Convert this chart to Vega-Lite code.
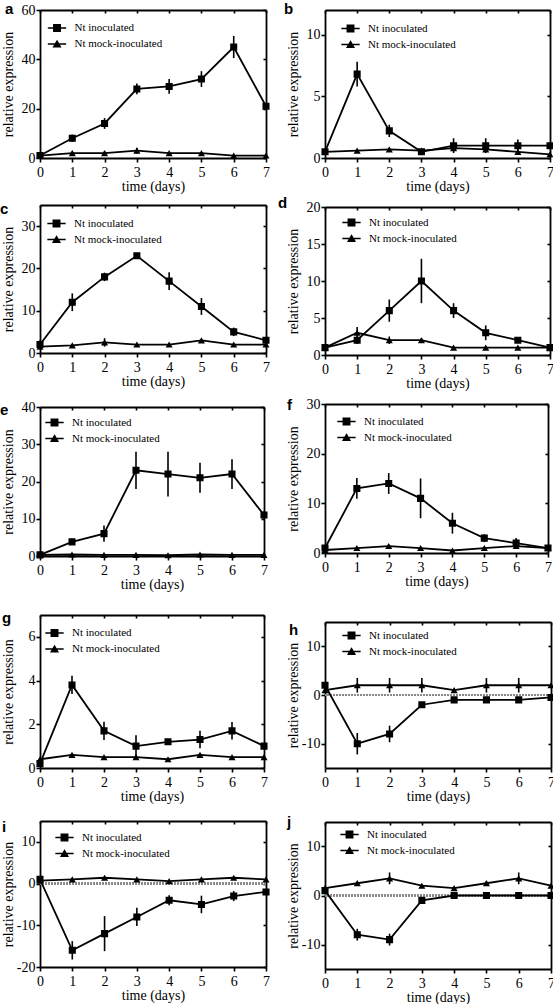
{
"$schema":"https://vega.github.io/schema/vega-lite/v6.json",
"padding":{"top":2,"left":0,"right":0,"bottom":0},
"data":{"values":[
{"panel":"a","series":"Nt inoculated","day":0,"value":1,"err":0.5},{"panel":"a","series":"Nt inoculated","day":1,"value":8,"err":1.5},{"panel":"a","series":"Nt inoculated","day":2,"value":14,"err":2.2},{"panel":"a","series":"Nt inoculated","day":3,"value":28,"err":2.2},{"panel":"a","series":"Nt inoculated","day":4,"value":29,"err":3},{"panel":"a","series":"Nt inoculated","day":5,"value":32,"err":3.2},{"panel":"a","series":"Nt inoculated","day":6,"value":45,"err":4.5},{"panel":"a","series":"Nt inoculated","day":7,"value":21,"err":1},
{"panel":"a","series":"Nt mock-inoculated","day":0,"value":1,"err":0.3},{"panel":"a","series":"Nt mock-inoculated","day":1,"value":2,"err":0.8},{"panel":"a","series":"Nt mock-inoculated","day":2,"value":2,"err":0.8},{"panel":"a","series":"Nt mock-inoculated","day":3,"value":3,"err":1.2},{"panel":"a","series":"Nt mock-inoculated","day":4,"value":2,"err":0.3},{"panel":"a","series":"Nt mock-inoculated","day":5,"value":2,"err":0.3},{"panel":"a","series":"Nt mock-inoculated","day":6,"value":1,"err":0.2},{"panel":"a","series":"Nt mock-inoculated","day":7,"value":1,"err":0.2},
{"panel":"b","series":"Nt inoculated","day":0,"value":0.5,"err":0.1},{"panel":"b","series":"Nt inoculated","day":1,"value":6.8,"err":1},{"panel":"b","series":"Nt inoculated","day":2,"value":2.2,"err":0.5},{"panel":"b","series":"Nt inoculated","day":3,"value":0.5,"err":0.1},{"panel":"b","series":"Nt inoculated","day":4,"value":1,"err":0.6},{"panel":"b","series":"Nt inoculated","day":5,"value":1,"err":0.6},{"panel":"b","series":"Nt inoculated","day":6,"value":1,"err":0.5},{"panel":"b","series":"Nt inoculated","day":7,"value":1,"err":0.2},
{"panel":"b","series":"Nt mock-inoculated","day":0,"value":0.5,"err":0},{"panel":"b","series":"Nt mock-inoculated","day":1,"value":0.6,"err":0},{"panel":"b","series":"Nt mock-inoculated","day":2,"value":0.7,"err":0},{"panel":"b","series":"Nt mock-inoculated","day":3,"value":0.6,"err":0},{"panel":"b","series":"Nt mock-inoculated","day":4,"value":0.8,"err":0.1},{"panel":"b","series":"Nt mock-inoculated","day":5,"value":0.7,"err":0.1},{"panel":"b","series":"Nt mock-inoculated","day":6,"value":0.5,"err":0.1},{"panel":"b","series":"Nt mock-inoculated","day":7,"value":0.3,"err":0.1},
{"panel":"c","series":"Nt inoculated","day":0,"value":2,"err":1},{"panel":"c","series":"Nt inoculated","day":1,"value":12,"err":2.1},{"panel":"c","series":"Nt inoculated","day":2,"value":18,"err":1},{"panel":"c","series":"Nt inoculated","day":3,"value":23,"err":0.4},{"panel":"c","series":"Nt inoculated","day":4,"value":17,"err":2.1},{"panel":"c","series":"Nt inoculated","day":5,"value":11,"err":2},{"panel":"c","series":"Nt inoculated","day":6,"value":5,"err":1},{"panel":"c","series":"Nt inoculated","day":7,"value":3,"err":0.5},
{"panel":"c","series":"Nt mock-inoculated","day":0,"value":1.5,"err":0.3},{"panel":"c","series":"Nt mock-inoculated","day":1,"value":1.8,"err":0.3},{"panel":"c","series":"Nt mock-inoculated","day":2,"value":2.5,"err":1},{"panel":"c","series":"Nt mock-inoculated","day":3,"value":2,"err":0.3},{"panel":"c","series":"Nt mock-inoculated","day":4,"value":2,"err":0.3},{"panel":"c","series":"Nt mock-inoculated","day":5,"value":3,"err":0.3},{"panel":"c","series":"Nt mock-inoculated","day":6,"value":2,"err":0.3},{"panel":"c","series":"Nt mock-inoculated","day":7,"value":2,"err":0.3},
{"panel":"d","series":"Nt inoculated","day":0,"value":1,"err":0.2},{"panel":"d","series":"Nt inoculated","day":1,"value":2,"err":0.5},{"panel":"d","series":"Nt inoculated","day":2,"value":6,"err":1.5},{"panel":"d","series":"Nt inoculated","day":3,"value":10,"err":3},{"panel":"d","series":"Nt inoculated","day":4,"value":6,"err":1},{"panel":"d","series":"Nt inoculated","day":5,"value":3,"err":1},{"panel":"d","series":"Nt inoculated","day":6,"value":2,"err":0.3},{"panel":"d","series":"Nt inoculated","day":7,"value":1,"err":0.2},
{"panel":"d","series":"Nt mock-inoculated","day":0,"value":1,"err":0.2},{"panel":"d","series":"Nt mock-inoculated","day":1,"value":3,"err":0.8},{"panel":"d","series":"Nt mock-inoculated","day":2,"value":2,"err":0.5},{"panel":"d","series":"Nt mock-inoculated","day":3,"value":2,"err":0.3},{"panel":"d","series":"Nt mock-inoculated","day":4,"value":1,"err":0.1},{"panel":"d","series":"Nt mock-inoculated","day":5,"value":1,"err":0.1},{"panel":"d","series":"Nt mock-inoculated","day":6,"value":1,"err":0.1},{"panel":"d","series":"Nt mock-inoculated","day":7,"value":1,"err":0.1},
{"panel":"e","series":"Nt inoculated","day":0,"value":0.3,"err":0.2},{"panel":"e","series":"Nt inoculated","day":1,"value":3.8,"err":0.8},{"panel":"e","series":"Nt inoculated","day":2,"value":6,"err":2.2},{"panel":"e","series":"Nt inoculated","day":3,"value":23,"err":5},{"panel":"e","series":"Nt inoculated","day":4,"value":22,"err":6},{"panel":"e","series":"Nt inoculated","day":5,"value":21,"err":4},{"panel":"e","series":"Nt inoculated","day":6,"value":22,"err":4},{"panel":"e","series":"Nt inoculated","day":7,"value":11,"err":1},
{"panel":"e","series":"Nt mock-inoculated","day":0,"value":0.3,"err":0.1},{"panel":"e","series":"Nt mock-inoculated","day":1,"value":0.4,"err":0.1},{"panel":"e","series":"Nt mock-inoculated","day":2,"value":0.3,"err":0.1},{"panel":"e","series":"Nt mock-inoculated","day":3,"value":0.3,"err":0.1},{"panel":"e","series":"Nt mock-inoculated","day":4,"value":0.2,"err":0.1},{"panel":"e","series":"Nt mock-inoculated","day":5,"value":0.4,"err":0.1},{"panel":"e","series":"Nt mock-inoculated","day":6,"value":0.3,"err":0.1},{"panel":"e","series":"Nt mock-inoculated","day":7,"value":0.3,"err":0.1},
{"panel":"f","series":"Nt inoculated","day":0,"value":1,"err":0.5},{"panel":"f","series":"Nt inoculated","day":1,"value":13,"err":2.1},{"panel":"f","series":"Nt inoculated","day":2,"value":14,"err":2.1},{"panel":"f","series":"Nt inoculated","day":3,"value":11,"err":4},{"panel":"f","series":"Nt inoculated","day":4,"value":6,"err":2.1},{"panel":"f","series":"Nt inoculated","day":5,"value":3,"err":0.8},{"panel":"f","series":"Nt inoculated","day":6,"value":2,"err":1},{"panel":"f","series":"Nt inoculated","day":7,"value":1,"err":0.3},
{"panel":"f","series":"Nt mock-inoculated","day":0,"value":0.6,"err":0.1},{"panel":"f","series":"Nt mock-inoculated","day":1,"value":1,"err":0.2},{"panel":"f","series":"Nt mock-inoculated","day":2,"value":1.4,"err":0.3},{"panel":"f","series":"Nt mock-inoculated","day":3,"value":1,"err":0.2},{"panel":"f","series":"Nt mock-inoculated","day":4,"value":0.5,"err":0.1},{"panel":"f","series":"Nt mock-inoculated","day":5,"value":1,"err":0.2},{"panel":"f","series":"Nt mock-inoculated","day":6,"value":1.4,"err":0.3},{"panel":"f","series":"Nt mock-inoculated","day":7,"value":1,"err":0.2},
{"panel":"g","series":"Nt inoculated","day":0,"value":0.2,"err":0.05},{"panel":"g","series":"Nt inoculated","day":1,"value":3.8,"err":0.42},{"panel":"g","series":"Nt inoculated","day":2,"value":1.7,"err":0.42},{"panel":"g","series":"Nt inoculated","day":3,"value":1,"err":0.5},{"panel":"g","series":"Nt inoculated","day":4,"value":1.2,"err":0.1},{"panel":"g","series":"Nt inoculated","day":5,"value":1.3,"err":0.4},{"panel":"g","series":"Nt inoculated","day":6,"value":1.7,"err":0.4},{"panel":"g","series":"Nt inoculated","day":7,"value":1,"err":0.1},
{"panel":"g","series":"Nt mock-inoculated","day":0,"value":0.4,"err":0.03},{"panel":"g","series":"Nt mock-inoculated","day":1,"value":0.6,"err":0.05},{"panel":"g","series":"Nt mock-inoculated","day":2,"value":0.5,"err":0.03},{"panel":"g","series":"Nt mock-inoculated","day":3,"value":0.5,"err":0.03},{"panel":"g","series":"Nt mock-inoculated","day":4,"value":0.4,"err":0.03},{"panel":"g","series":"Nt mock-inoculated","day":5,"value":0.6,"err":0.05},{"panel":"g","series":"Nt mock-inoculated","day":6,"value":0.5,"err":0.03},{"panel":"g","series":"Nt mock-inoculated","day":7,"value":0.5,"err":0.03},
{"panel":"h","series":"Nt inoculated","day":0,"value":2,"err":0.3},{"panel":"h","series":"Nt inoculated","day":1,"value":-10,"err":2.2},{"panel":"h","series":"Nt inoculated","day":2,"value":-8,"err":1.7},{"panel":"h","series":"Nt inoculated","day":3,"value":-2,"err":0.3},{"panel":"h","series":"Nt inoculated","day":4,"value":-1,"err":0.3},{"panel":"h","series":"Nt inoculated","day":5,"value":-1,"err":0.3},{"panel":"h","series":"Nt inoculated","day":6,"value":-1,"err":0.3},{"panel":"h","series":"Nt inoculated","day":7,"value":-0.5,"err":0.3},
{"panel":"h","series":"Nt mock-inoculated","day":0,"value":1,"err":0.3},{"panel":"h","series":"Nt mock-inoculated","day":1,"value":2,"err":1.5},{"panel":"h","series":"Nt mock-inoculated","day":2,"value":2,"err":1.5},{"panel":"h","series":"Nt mock-inoculated","day":3,"value":2,"err":1.5},{"panel":"h","series":"Nt mock-inoculated","day":4,"value":1,"err":0.3},{"panel":"h","series":"Nt mock-inoculated","day":5,"value":2,"err":1.5},{"panel":"h","series":"Nt mock-inoculated","day":6,"value":2,"err":1.5},{"panel":"h","series":"Nt mock-inoculated","day":7,"value":2,"err":0.3},
{"panel":"i","series":"Nt inoculated","day":0,"value":1,"err":0.3},{"panel":"i","series":"Nt inoculated","day":1,"value":-16,"err":2.2},{"panel":"i","series":"Nt inoculated","day":2,"value":-12,"err":4.2},{"panel":"i","series":"Nt inoculated","day":3,"value":-8,"err":2.2},{"panel":"i","series":"Nt inoculated","day":4,"value":-4,"err":1.2},{"panel":"i","series":"Nt inoculated","day":5,"value":-5,"err":2.1},{"panel":"i","series":"Nt inoculated","day":6,"value":-3,"err":1.2},{"panel":"i","series":"Nt inoculated","day":7,"value":-2,"err":0.5},
{"panel":"i","series":"Nt mock-inoculated","day":0,"value":0.7,"err":0.1},{"panel":"i","series":"Nt mock-inoculated","day":1,"value":1,"err":0.1},{"panel":"i","series":"Nt mock-inoculated","day":2,"value":1.4,"err":0.2},{"panel":"i","series":"Nt mock-inoculated","day":3,"value":1,"err":0.1},{"panel":"i","series":"Nt mock-inoculated","day":4,"value":0.6,"err":0.1},{"panel":"i","series":"Nt mock-inoculated","day":5,"value":1,"err":0.1},{"panel":"i","series":"Nt mock-inoculated","day":6,"value":1.4,"err":0.2},{"panel":"i","series":"Nt mock-inoculated","day":7,"value":1,"err":0.1},
{"panel":"j","series":"Nt inoculated","day":0,"value":1,"err":0.3},{"panel":"j","series":"Nt inoculated","day":1,"value":-8,"err":1.2},{"panel":"j","series":"Nt inoculated","day":2,"value":-9,"err":1.2},{"panel":"j","series":"Nt inoculated","day":3,"value":-1,"err":0.3},{"panel":"j","series":"Nt inoculated","day":4,"value":0,"err":0.1},{"panel":"j","series":"Nt inoculated","day":5,"value":0,"err":0.1},{"panel":"j","series":"Nt inoculated","day":6,"value":0,"err":0.1},{"panel":"j","series":"Nt inoculated","day":7,"value":0,"err":0.1},
{"panel":"j","series":"Nt mock-inoculated","day":0,"value":1.5,"err":0.2},{"panel":"j","series":"Nt mock-inoculated","day":1,"value":2.5,"err":0.5},{"panel":"j","series":"Nt mock-inoculated","day":2,"value":3.5,"err":1.2},{"panel":"j","series":"Nt mock-inoculated","day":3,"value":2,"err":0.3},{"panel":"j","series":"Nt mock-inoculated","day":4,"value":1.5,"err":0.3},{"panel":"j","series":"Nt mock-inoculated","day":5,"value":2.5,"err":0.5},{"panel":"j","series":"Nt mock-inoculated","day":6,"value":3.5,"err":1.2},{"panel":"j","series":"Nt mock-inoculated","day":7,"value":2,"err":0.3}
]},
"hconcat":[
{"vconcat":[
{"width":226,"height":148,"title":{"text":"a","anchor":"start","frame":"group","dx":-35,"offset":-26,"baseline":"alphabetic"},"transform":[{"filter":"datum.panel==='a'"}],
"layer":[
{"mark":{"type":"line","strokeWidth":1.8},"encoding":{"x":{"field":"day","type":"quantitative","scale":{"domain":[0,7],"nice":false},"axis":{"orient":"top","labels":false,"title":null,"tickSize":-3,"values":[0,1,2,3,4,5,6,7]}},"y":{"field":"value","type":"quantitative","scale":{"domain":[0,60],"nice":false,"zero":false},"axis":{"orient":"right","labels":false,"title":null,"tickSize":-3,"values":[0,20,40,60]}},"color":{"field":"series","type":"nominal","scale":{"domain":["Nt inoculated","Nt mock-inoculated"],"range":["black","black"]},"legend":{"title":null,"orient":"none","legendX":11.5,"legendY":12.5}}}},
{"mark":{"type":"errorbar","color":"black","thickness":1.6},"encoding":{"x":{"field":"day","type":"quantitative","axis":null},"y":{"field":"value","type":"quantitative","scale":{"domain":[0,60],"nice":false,"zero":false},"axis":null},"yError":{"field":"err"}}},
{"mark":{"type":"point","filled":true,"color":"black","size":50,"opacity":1},"encoding":{"x":{"field":"day","type":"quantitative","scale":{"domain":[0,7],"nice":false},"axis":{"orient":"bottom","title":"time (days)","values":[0,1,2,3,4,5,6,7]}},"y":{"field":"value","type":"quantitative","scale":{"domain":[0,60],"nice":false,"zero":false},"axis":{"orient":"left","title":"relative expression","values":[0,20,40,60]}},"shape":{"field":"series","type":"nominal","scale":{"domain":["Nt inoculated","Nt mock-inoculated"],"range":["M-2.9,0H2.9M-1,-1H1V1H-1Z","M-2.9,0H2.9M0,-0.866L1,0.866H-1Z"]},"legend":{"title":null,"orient":"none","legendX":11.5,"legendY":12.5}}}}
],"resolve":{"axis":{"x":"independent","y":"independent"}}},
{"vconcat":[
{"width":226,"height":148,"title":{"text":"c","anchor":"start","frame":"group","dx":-40,"offset":-25,"baseline":"alphabetic"},"transform":[{"filter":"datum.panel==='c'"}],
"layer":[
{"mark":{"type":"line","strokeWidth":1.8},"encoding":{"x":{"field":"day","type":"quantitative","scale":{"domain":[0,7],"nice":false},"axis":{"orient":"top","labels":false,"title":null,"tickSize":-3,"values":[0,1,2,3,4,5,6,7]}},"y":{"field":"value","type":"quantitative","scale":{"domain":[0,35],"nice":false,"zero":false},"axis":{"orient":"right","labels":false,"title":null,"tickSize":-3,"values":[0,10,20,30]}},"color":{"field":"series","type":"nominal","scale":{"domain":["Nt inoculated","Nt mock-inoculated"],"range":["black","black"]},"legend":{"title":null,"orient":"none","legendX":11,"legendY":13}}}},
{"mark":{"type":"errorbar","color":"black","thickness":1.6},"encoding":{"x":{"field":"day","type":"quantitative","axis":null},"y":{"field":"value","type":"quantitative","scale":{"domain":[0,35],"nice":false,"zero":false},"axis":null},"yError":{"field":"err"}}},
{"mark":{"type":"point","filled":true,"color":"black","size":50,"opacity":1},"encoding":{"x":{"field":"day","type":"quantitative","scale":{"domain":[0,7],"nice":false},"axis":{"orient":"bottom","title":"time (days)","values":[0,1,2,3,4,5,6,7]}},"y":{"field":"value","type":"quantitative","scale":{"domain":[0,35],"nice":false,"zero":false},"axis":{"orient":"left","title":"relative expression","values":[0,10,20,30]}},"shape":{"field":"series","type":"nominal","scale":{"domain":["Nt inoculated","Nt mock-inoculated"],"range":["M-2.9,0H2.9M-1,-1H1V1H-1Z","M-2.9,0H2.9M0,-0.866L1,0.866H-1Z"]},"legend":{"title":null,"orient":"none","legendX":11,"legendY":13}}}}
],"resolve":{"axis":{"x":"independent","y":"independent"}}},
{"vconcat":[
{"width":224,"height":149,"title":{"text":"e","anchor":"start","frame":"group","dx":-40,"offset":-30,"baseline":"alphabetic"},"transform":[{"filter":"datum.panel==='e'"}],
"layer":[
{"mark":{"type":"line","strokeWidth":1.8},"encoding":{"x":{"field":"day","type":"quantitative","scale":{"domain":[0,7],"nice":false},"axis":{"orient":"top","labels":false,"title":null,"tickSize":-3,"values":[0,1,2,3,4,5,6,7]}},"y":{"field":"value","type":"quantitative","scale":{"domain":[0,40],"nice":false,"zero":false},"axis":{"orient":"right","labels":false,"title":null,"tickSize":-3,"values":[0,10,20,30,40]}},"color":{"field":"series","type":"nominal","scale":{"domain":["Nt inoculated","Nt mock-inoculated"],"range":["black","black"]},"legend":{"title":null,"orient":"none","legendX":9,"legendY":10}}}},
{"mark":{"type":"errorbar","color":"black","thickness":1.6},"encoding":{"x":{"field":"day","type":"quantitative","axis":null},"y":{"field":"value","type":"quantitative","scale":{"domain":[0,40],"nice":false,"zero":false},"axis":null},"yError":{"field":"err"}}},
{"mark":{"type":"point","filled":true,"color":"black","size":50,"opacity":1},"encoding":{"x":{"field":"day","type":"quantitative","scale":{"domain":[0,7],"nice":false},"axis":{"orient":"bottom","title":"time (days)","values":[0,1,2,3,4,5,6,7]}},"y":{"field":"value","type":"quantitative","scale":{"domain":[0,40],"nice":false,"zero":false},"axis":{"orient":"left","title":"relative expression","values":[0,10,20,30,40]}},"shape":{"field":"series","type":"nominal","scale":{"domain":["Nt inoculated","Nt mock-inoculated"],"range":["M-2.9,0H2.9M-1,-1H1V1H-1Z","M-2.9,0H2.9M0,-0.866L1,0.866H-1Z"]},"legend":{"title":null,"orient":"none","legendX":9,"legendY":10}}}}
],"resolve":{"axis":{"x":"independent","y":"independent"}}},
{"vconcat":[
{"width":224,"height":153,"title":{"text":"g","anchor":"start","frame":"group","dx":-38,"offset":-24,"baseline":"alphabetic"},"transform":[{"filter":"datum.panel==='g'"}],
"layer":[
{"mark":{"type":"line","strokeWidth":1.8},"encoding":{"x":{"field":"day","type":"quantitative","scale":{"domain":[0,7],"nice":false},"axis":{"orient":"top","labels":false,"title":null,"tickSize":-3,"values":[0,1,2,3,4,5,6,7]}},"y":{"field":"value","type":"quantitative","scale":{"domain":[0,7],"nice":false,"zero":false},"axis":{"orient":"right","labels":false,"title":null,"tickSize":-3,"values":[0,2,4,6]}},"color":{"field":"series","type":"nominal","scale":{"domain":["Nt inoculated","Nt mock-inoculated"],"range":["black","black"]},"legend":{"title":null,"orient":"none","legendX":9,"legendY":12.5}}}},
{"mark":{"type":"errorbar","color":"black","thickness":1.6},"encoding":{"x":{"field":"day","type":"quantitative","axis":null},"y":{"field":"value","type":"quantitative","scale":{"domain":[0,7],"nice":false,"zero":false},"axis":null},"yError":{"field":"err"}}},
{"mark":{"type":"point","filled":true,"color":"black","size":50,"opacity":1},"encoding":{"x":{"field":"day","type":"quantitative","scale":{"domain":[0,7],"nice":false},"axis":{"orient":"bottom","title":"time (days)","values":[0,1,2,3,4,5,6,7]}},"y":{"field":"value","type":"quantitative","scale":{"domain":[0,7],"nice":false,"zero":false},"axis":{"orient":"left","title":"relative expression","values":[0,2,4,6]}},"shape":{"field":"series","type":"nominal","scale":{"domain":["Nt inoculated","Nt mock-inoculated"],"range":["M-2.9,0H2.9M-1,-1H1V1H-1Z","M-2.9,0H2.9M0,-0.866L1,0.866H-1Z"]},"legend":{"title":null,"orient":"none","legendX":9,"legendY":12.5}}}}
],"resolve":{"axis":{"x":"independent","y":"independent"}}},
{"width":226,"height":146,"title":{"text":"i","anchor":"start","frame":"group","dx":-38,"offset":-27,"baseline":"alphabetic"},"transform":[{"filter":"datum.panel==='i'"}],
"layer":[
{"mark":{"type":"rule","color":"#888888","strokeWidth":1.5,"strokeDash":[1.5,1.5]},"encoding":{"y":{"datum":0,"type":"quantitative","scale":{"domain":[-20,15],"nice":false,"zero":false},"axis":null}}},
{"mark":{"type":"line","strokeWidth":1.8},"encoding":{"x":{"field":"day","type":"quantitative","scale":{"domain":[0,7],"nice":false},"axis":{"orient":"top","labels":false,"title":null,"tickSize":-3,"values":[0,1,2,3,4,5,6,7]}},"y":{"field":"value","type":"quantitative","scale":{"domain":[-20,15],"nice":false,"zero":false},"axis":{"orient":"right","labels":false,"title":null,"tickSize":-3,"values":[-20,-10,0,10]}},"color":{"field":"series","type":"nominal","scale":{"domain":["Nt inoculated","Nt mock-inoculated"],"range":["black","black"]},"legend":{"title":null,"orient":"none","legendX":19,"legendY":11}}}},
{"mark":{"type":"errorbar","color":"black","thickness":1.6},"encoding":{"x":{"field":"day","type":"quantitative","axis":null},"y":{"field":"value","type":"quantitative","scale":{"domain":[-20,15],"nice":false,"zero":false},"axis":null},"yError":{"field":"err"}}},
{"mark":{"type":"point","filled":true,"color":"black","size":50,"opacity":1},"encoding":{"x":{"field":"day","type":"quantitative","scale":{"domain":[0,7],"nice":false},"axis":{"orient":"bottom","title":"time (days)","values":[0,1,2,3,4,5,6,7]}},"y":{"field":"value","type":"quantitative","scale":{"domain":[-20,15],"nice":false,"zero":false},"axis":{"orient":"left","title":"relative expression","values":[-20,-10,0,10],"labelExpr":"''+datum.value"}},"shape":{"field":"series","type":"nominal","scale":{"domain":["Nt inoculated","Nt mock-inoculated"],"range":["M-2.9,0H2.9M-1,-1H1V1H-1Z","M-2.9,0H2.9M0,-0.866L1,0.866H-1Z"]},"legend":{"title":null,"orient":"none","legendX":19,"legendY":11}}}}
],"resolve":{"axis":{"x":"independent","y":"independent"}}}
],"spacing":17,"resolve":{"scale":{"shape":"independent","color":"independent"},"legend":{"shape":"independent","color":"independent"}}}
],"spacing":20,"resolve":{"scale":{"shape":"independent","color":"independent"},"legend":{"shape":"independent","color":"independent"}}}
],"spacing":12,"resolve":{"scale":{"shape":"independent","color":"independent"},"legend":{"shape":"independent","color":"independent"}}}
],"spacing":9,"resolve":{"scale":{"shape":"independent","color":"independent"},"legend":{"shape":"independent","color":"independent"}}},
{"vconcat":[
{"width":225,"height":148,"title":{"text":"b","anchor":"start","frame":"group","dx":-41,"offset":-20,"baseline":"alphabetic"},"transform":[{"filter":"datum.panel==='b'"}],
"layer":[
{"mark":{"type":"line","strokeWidth":1.8},"encoding":{"x":{"field":"day","type":"quantitative","scale":{"domain":[0,7],"nice":false},"axis":{"orient":"top","labels":false,"title":null,"tickSize":-3,"values":[0,1,2,3,4,5,6,7]}},"y":{"field":"value","type":"quantitative","scale":{"domain":[0,12],"nice":false,"zero":false},"axis":{"orient":"right","labels":false,"title":null,"tickSize":-3,"values":[0,5,10]}},"color":{"field":"series","type":"nominal","scale":{"domain":["Nt inoculated","Nt mock-inoculated"],"range":["black","black"]},"legend":{"title":null,"orient":"none","legendX":20,"legendY":13}}}},
{"mark":{"type":"errorbar","color":"black","thickness":1.6},"encoding":{"x":{"field":"day","type":"quantitative","axis":null},"y":{"field":"value","type":"quantitative","scale":{"domain":[0,12],"nice":false,"zero":false},"axis":null},"yError":{"field":"err"}}},
{"mark":{"type":"point","filled":true,"color":"black","size":50,"opacity":1},"encoding":{"x":{"field":"day","type":"quantitative","scale":{"domain":[0,7],"nice":false},"axis":{"orient":"bottom","title":"time (days)","values":[0,1,2,3,4,5,6,7]}},"y":{"field":"value","type":"quantitative","scale":{"domain":[0,12],"nice":false,"zero":false},"axis":{"orient":"left","title":"relative expression","values":[0,5,10]}},"shape":{"field":"series","type":"nominal","scale":{"domain":["Nt inoculated","Nt mock-inoculated"],"range":["M-2.9,0H2.9M-1,-1H1V1H-1Z","M-2.9,0H2.9M0,-0.866L1,0.866H-1Z"]},"legend":{"title":null,"orient":"none","legendX":20,"legendY":13}}}}
],"resolve":{"axis":{"x":"independent","y":"independent"}}},
{"vconcat":[
{"width":225,"height":148,"title":{"text":"d","anchor":"start","frame":"group","dx":-47,"offset":-23,"baseline":"alphabetic"},"transform":[{"filter":"datum.panel==='d'"}],
"layer":[
{"mark":{"type":"line","strokeWidth":1.8},"encoding":{"x":{"field":"day","type":"quantitative","scale":{"domain":[0,7],"nice":false},"axis":{"orient":"top","labels":false,"title":null,"tickSize":-3,"values":[0,1,2,3,4,5,6,7]}},"y":{"field":"value","type":"quantitative","scale":{"domain":[0,20],"nice":false,"zero":false},"axis":{"orient":"right","labels":false,"title":null,"tickSize":-3,"values":[0,5,10,15,20]}},"color":{"field":"series","type":"nominal","scale":{"domain":["Nt inoculated","Nt mock-inoculated"],"range":["black","black"]},"legend":{"title":null,"orient":"none","legendX":21,"legendY":10}}}},
{"mark":{"type":"errorbar","color":"black","thickness":1.6},"encoding":{"x":{"field":"day","type":"quantitative","axis":null},"y":{"field":"value","type":"quantitative","scale":{"domain":[0,20],"nice":false,"zero":false},"axis":null},"yError":{"field":"err"}}},
{"mark":{"type":"point","filled":true,"color":"black","size":50,"opacity":1},"encoding":{"x":{"field":"day","type":"quantitative","scale":{"domain":[0,7],"nice":false},"axis":{"orient":"bottom","title":"time (days)","values":[0,1,2,3,4,5,6,7]}},"y":{"field":"value","type":"quantitative","scale":{"domain":[0,20],"nice":false,"zero":false},"axis":{"orient":"left","title":"relative expression","values":[0,5,10,15,20]}},"shape":{"field":"series","type":"nominal","scale":{"domain":["Nt inoculated","Nt mock-inoculated"],"range":["M-2.9,0H2.9M-1,-1H1V1H-1Z","M-2.9,0H2.9M0,-0.866L1,0.866H-1Z"]},"legend":{"title":null,"orient":"none","legendX":21,"legendY":10}}}}
],"resolve":{"axis":{"x":"independent","y":"independent"}}},
{"vconcat":[
{"width":223,"height":149,"title":{"text":"f","anchor":"start","frame":"group","dx":-38,"offset":-28,"baseline":"alphabetic"},"transform":[{"filter":"datum.panel==='f'"}],
"layer":[
{"mark":{"type":"line","strokeWidth":1.8},"encoding":{"x":{"field":"day","type":"quantitative","scale":{"domain":[0,7],"nice":false},"axis":{"orient":"top","labels":false,"title":null,"tickSize":-3,"values":[0,1,2,3,4,5,6,7]}},"y":{"field":"value","type":"quantitative","scale":{"domain":[0,30],"nice":false,"zero":false},"axis":{"orient":"right","labels":false,"title":null,"tickSize":-3,"values":[0,10,20,30]}},"color":{"field":"series","type":"nominal","scale":{"domain":["Nt inoculated","Nt mock-inoculated"],"range":["black","black"]},"legend":{"title":null,"orient":"none","legendX":16,"legendY":12}}}},
{"mark":{"type":"errorbar","color":"black","thickness":1.6},"encoding":{"x":{"field":"day","type":"quantitative","axis":null},"y":{"field":"value","type":"quantitative","scale":{"domain":[0,30],"nice":false,"zero":false},"axis":null},"yError":{"field":"err"}}},
{"mark":{"type":"point","filled":true,"color":"black","size":50,"opacity":1},"encoding":{"x":{"field":"day","type":"quantitative","scale":{"domain":[0,7],"nice":false},"axis":{"orient":"bottom","title":"time (days)","values":[0,1,2,3,4,5,6,7]}},"y":{"field":"value","type":"quantitative","scale":{"domain":[0,30],"nice":false,"zero":false},"axis":{"orient":"left","title":"relative expression","values":[0,10,20,30]}},"shape":{"field":"series","type":"nominal","scale":{"domain":["Nt inoculated","Nt mock-inoculated"],"range":["M-2.9,0H2.9M-1,-1H1V1H-1Z","M-2.9,0H2.9M0,-0.866L1,0.866H-1Z"]},"legend":{"title":null,"orient":"none","legendX":16,"legendY":12}}}}
],"resolve":{"axis":{"x":"independent","y":"independent"}}},
{"vconcat":[
{"width":226,"height":146,"title":{"text":"h","anchor":"start","frame":"group","dx":-36,"offset":-29,"baseline":"alphabetic"},"transform":[{"filter":"datum.panel==='h'"}],
"layer":[
{"mark":{"type":"rule","color":"#888888","strokeWidth":1.5,"strokeDash":[1.5,1.5]},"encoding":{"y":{"datum":0,"type":"quantitative","scale":{"domain":[-15,15],"nice":false,"zero":false},"axis":null}}},
{"mark":{"type":"line","strokeWidth":1.8},"encoding":{"x":{"field":"day","type":"quantitative","scale":{"domain":[0,7],"nice":false},"axis":{"orient":"top","labels":false,"title":null,"tickSize":-3,"values":[0,1,2,3,4,5,6,7]}},"y":{"field":"value","type":"quantitative","scale":{"domain":[-15,15],"nice":false,"zero":false},"axis":{"orient":"right","labels":false,"title":null,"tickSize":-3,"values":[-10,0,10]}},"color":{"field":"series","type":"nominal","scale":{"domain":["Nt inoculated","Nt mock-inoculated"],"range":["black","black"]},"legend":{"title":null,"orient":"none","legendX":21,"legendY":8}}}},
{"mark":{"type":"errorbar","color":"black","thickness":1.6},"encoding":{"x":{"field":"day","type":"quantitative","axis":null},"y":{"field":"value","type":"quantitative","scale":{"domain":[-15,15],"nice":false,"zero":false},"axis":null},"yError":{"field":"err"}}},
{"mark":{"type":"point","filled":true,"color":"black","size":50,"opacity":1},"encoding":{"x":{"field":"day","type":"quantitative","scale":{"domain":[0,7],"nice":false},"axis":{"orient":"bottom","title":"time (days)","values":[0,1,2,3,4,5,6,7]}},"y":{"field":"value","type":"quantitative","scale":{"domain":[-15,15],"nice":false,"zero":false},"axis":{"orient":"left","title":"relative expression","values":[-10,0,10],"labelExpr":"''+datum.value"}},"shape":{"field":"series","type":"nominal","scale":{"domain":["Nt inoculated","Nt mock-inoculated"],"range":["M-2.9,0H2.9M-1,-1H1V1H-1Z","M-2.9,0H2.9M0,-0.866L1,0.866H-1Z"]},"legend":{"title":null,"orient":"none","legendX":21,"legendY":8}}}}
],"resolve":{"axis":{"x":"independent","y":"independent"}}},
{"width":226,"height":147,"title":{"text":"j","anchor":"start","frame":"group","dx":-38,"offset":-21,"baseline":"alphabetic"},"transform":[{"filter":"datum.panel==='j'"}],
"layer":[
{"mark":{"type":"rule","color":"#888888","strokeWidth":1.5,"strokeDash":[1.5,1.5]},"encoding":{"y":{"datum":0,"type":"quantitative","scale":{"domain":[-15,15],"nice":false,"zero":false},"axis":null}}},
{"mark":{"type":"line","strokeWidth":1.8},"encoding":{"x":{"field":"day","type":"quantitative","scale":{"domain":[0,7],"nice":false},"axis":{"orient":"top","labels":false,"title":null,"tickSize":-3,"values":[0,1,2,3,4,5,6,7]}},"y":{"field":"value","type":"quantitative","scale":{"domain":[-15,15],"nice":false,"zero":false},"axis":{"orient":"right","labels":false,"title":null,"tickSize":-3,"values":[-10,0,10]}},"color":{"field":"series","type":"nominal","scale":{"domain":["Nt inoculated","Nt mock-inoculated"],"range":["black","black"]},"legend":{"title":null,"orient":"none","legendX":19,"legendY":7}}}},
{"mark":{"type":"errorbar","color":"black","thickness":1.6},"encoding":{"x":{"field":"day","type":"quantitative","axis":null},"y":{"field":"value","type":"quantitative","scale":{"domain":[-15,15],"nice":false,"zero":false},"axis":null},"yError":{"field":"err"}}},
{"mark":{"type":"point","filled":true,"color":"black","size":50,"opacity":1},"encoding":{"x":{"field":"day","type":"quantitative","scale":{"domain":[0,7],"nice":false},"axis":{"orient":"bottom","title":"time (days)","values":[0,1,2,3,4,5,6,7]}},"y":{"field":"value","type":"quantitative","scale":{"domain":[-15,15],"nice":false,"zero":false},"axis":{"orient":"left","title":"relative expression","values":[-10,0,10],"labelExpr":"''+datum.value"}},"shape":{"field":"series","type":"nominal","scale":{"domain":["Nt inoculated","Nt mock-inoculated"],"range":["M-2.9,0H2.9M-1,-1H1V1H-1Z","M-2.9,0H2.9M0,-0.866L1,0.866H-1Z"]},"legend":{"title":null,"orient":"none","legendX":19,"legendY":7}}}}
],"resolve":{"axis":{"x":"independent","y":"independent"}}}
],"spacing":12,"resolve":{"scale":{"shape":"independent","color":"independent"},"legend":{"shape":"independent","color":"independent"}}}
],"spacing":33,"resolve":{"scale":{"shape":"independent","color":"independent"},"legend":{"shape":"independent","color":"independent"}}}
],"spacing":7,"resolve":{"scale":{"shape":"independent","color":"independent"},"legend":{"shape":"independent","color":"independent"}}}
],"spacing":3,"resolve":{"scale":{"shape":"independent","color":"independent"},"legend":{"shape":"independent","color":"independent"}}}
],
"spacing":1,
"resolve":{"scale":{"shape":"independent","color":"independent"},"legend":{"shape":"independent","color":"independent"}},
"config":{
"view":{"stroke":null},
"font":"Liberation Serif",
"axis":{"labelFont":"Liberation Serif","labelFontSize":14,"labelColor":"black","titleFont":"Liberation Serif","titleFontSize":14,"titleFontWeight":"normal","titleColor":"black","domainColor":"black","domainWidth":1.8,"tickColor":"black","tickWidth":1.6,"tickSize":4,"grid":false,"labelFlush":false,"labelOverlap":false},
"axisBottom":{"labelPadding":3,"titlePadding":0},
"axisLeft":{"labelPadding":1,"titleX":-25},
"legend":{"labelFont":"Liberation Serif","labelFontSize":11,"labelColor":"black","symbolSize":40,"labelOffset":12,"rowPadding":3,"padding":0,"symbolFillColor":"black","symbolStrokeColor":"black","symbolStrokeWidth":1.6},
"title":{"font":"Liberation Sans","fontSize":15,"fontWeight":"bold","color":"black"}
}
}
